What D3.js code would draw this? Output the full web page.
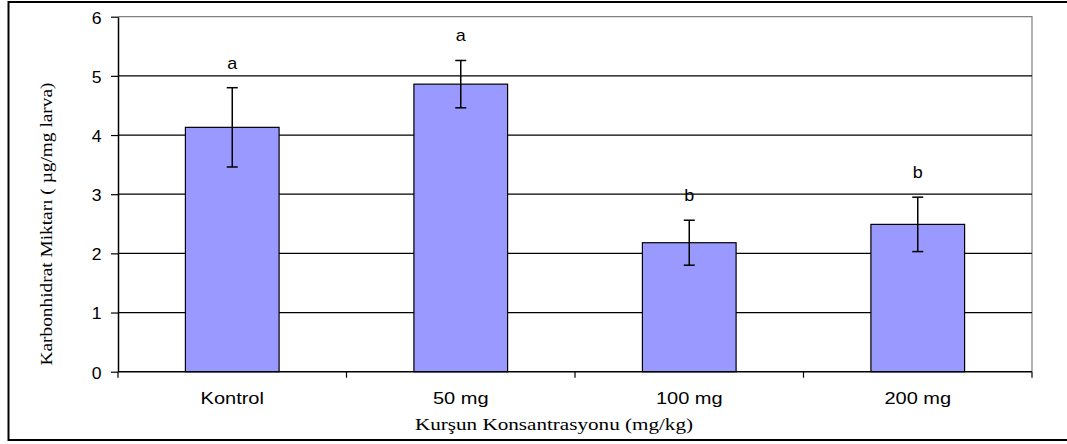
<!DOCTYPE html>
<html>
<head>
<meta charset="utf-8">
<script src="https://cdn.jsdelivr.net/npm/d3@7"></script>
<style>
  body { margin: 0; background: #fff; }
  svg { display: block; }
  .tick text { font-family: "Liberation Sans", Arial, sans-serif; font-size: 16px; fill: #000; }
</style>
</head>
<body>
<div class="container"></div>
<script>
var w = 1067;
var h = 444;

// data
var categories = ["Kontrol", "50 mg", "100 mg", "200 mg"];
var means = [4.13, 4.86, 2.18, 2.49];
var errors = [0.67, 0.40, 0.38, 0.46];
var letters = ["a", "a", "b", "b"];
var yTicks = [0, 1, 2, 3, 4, 5, 6];

var plotL = 118, plotR = 1032, plotT = 16.7, plotB = 371.7;

var svg = d3.select(".container").append("svg")
  .attr("width", w)
  .attr("height", h);

// outer frame
svg.append("rect")
  .attr("x", 8.5).attr("y", 2)
  .attr("width", 1070).attr("height", 438)
  .attr("fill", "none")
  .attr("stroke", "#000")
  .attr("stroke-width", 2);

var x = d3.scaleBand().domain(categories).range([plotL, plotR]);
var y = d3.scaleLinear().domain([0, 6]).range([plotB, plotT]);
var barW = x.step() * 0.41;

// plot area border (gray top/right)
svg.append("path")
  .attr("d", "M" + plotL + "," + y(6) + "H" + plotR + "V" + y(0))
  .attr("fill", "none")
  .attr("stroke", "#808080")
  .attr("stroke-width", 1.2);

// gridlines
svg.append("g").selectAll("line")
  .data(yTicks.filter((d) => d > 0 && d < 6))
  .enter().append("line")
  .attr("x1", plotL).attr("x2", plotR)
  .attr("y1", (d) => y(d)).attr("y2", (d) => y(d))
  .attr("stroke", "#000")
  .attr("stroke-width", 1.2);

// bars
svg.append("g").selectAll("rect")
  .data(means)
  .enter().append("rect")
  .attr("x", (d, i) => x(categories[i]) + (x.step() - barW) / 2)
  .attr("y", (d) => y(d))
  .attr("width", barW)
  .attr("height", (d) => y(0) - y(d))
  .attr("fill", "#9999ff")
  .attr("stroke", "#000")
  .attr("stroke-width", 1.2);

// error bars
var eb = svg.append("g").attr("stroke", "#000").attr("stroke-width", 1.5);
means.forEach(function (m, i) {
  var cx = x(categories[i]) + x.step() / 2;
  eb.append("line").attr("x1", cx).attr("x2", cx).attr("y1", y(m + errors[i])).attr("y2", y(m - errors[i]));
  eb.append("line").attr("x1", cx - 5.5).attr("x2", cx + 5.5).attr("y1", y(m + errors[i])).attr("y2", y(m + errors[i]));
  eb.append("line").attr("x1", cx - 5.5).attr("x2", cx + 5.5).attr("y1", y(m - errors[i])).attr("y2", y(m - errors[i]));
});

// significance letters
svg.append("g").selectAll("text")
  .data(letters)
  .enter().append("text")
  .attr("transform", (d, i) => "translate(" + (x(categories[i]) + x.step() / 2) + "," + (y(means[i] + errors[i]) - 19) + ") scale(1.12,1)")
  .attr("text-anchor", "middle")
  .attr("font-family", "Liberation Sans, Arial, sans-serif")
  .attr("font-size", 16)
  .text((d) => d);

// y axis
var yAxis = svg.append("g")
  .attr("transform", "translate(" + plotL + ",0)")
  .call(d3.axisLeft(y).tickValues(yTicks).tickFormat(d3.format("d")).tickSize(7).tickPadding(8).tickSizeOuter(0));
yAxis.select(".domain").attr("stroke", "#000").attr("stroke-width", 1.5);
yAxis.selectAll(".tick line").attr("stroke-width", 1.2);
yAxis.selectAll(".tick text").attr("transform", "scale(1.1,1)").attr("dy", "0.4em");

// x axis line + boundary ticks
svg.append("line")
  .attr("x1", plotL).attr("x2", plotR)
  .attr("y1", y(0)).attr("y2", y(0))
  .attr("stroke", "#000").attr("stroke-width", 1.5);
svg.append("g").selectAll("line")
  .data(categories.concat(["end"]))
  .enter().append("line")
  .attr("x1", (d, i) => plotL + i * x.step()).attr("x2", (d, i) => plotL + i * x.step())
  .attr("y1", y(0)).attr("y2", y(0) + 6)
  .attr("stroke", "#000").attr("stroke-width", 1.2);

var xAxis = svg.append("g")
  .attr("transform", "translate(0," + y(0) + ")")
  .call(d3.axisBottom(x).tickSize(0).tickPadding(21));
xAxis.select(".domain").remove();
xAxis.selectAll(".tick text").attr("transform", "scale(1.25,1)");

// axis titles
svg.append("text")
  .attr("x", 554).attr("y", 429.5)
  .attr("text-anchor", "middle")
  .attr("font-family", "Liberation Serif, Times New Roman, serif")
  .attr("font-size", 17.5)
  .attr("textLength", 278)
  .attr("lengthAdjust", "spacingAndGlyphs")
  .text("Kurşun Konsantrasyonu (mg/kg)");

svg.append("text")
  .attr("transform", "translate(52,224) rotate(-90)")
  .attr("text-anchor", "middle")
  .attr("font-family", "Liberation Serif, Times New Roman, serif")
  .attr("font-size", 16)
  .attr("textLength", 283)
  .attr("lengthAdjust", "spacingAndGlyphs")
  .text("Karbonhidrat Miktarı ( µg/mg larva)");
</script>
</body>
</html>
